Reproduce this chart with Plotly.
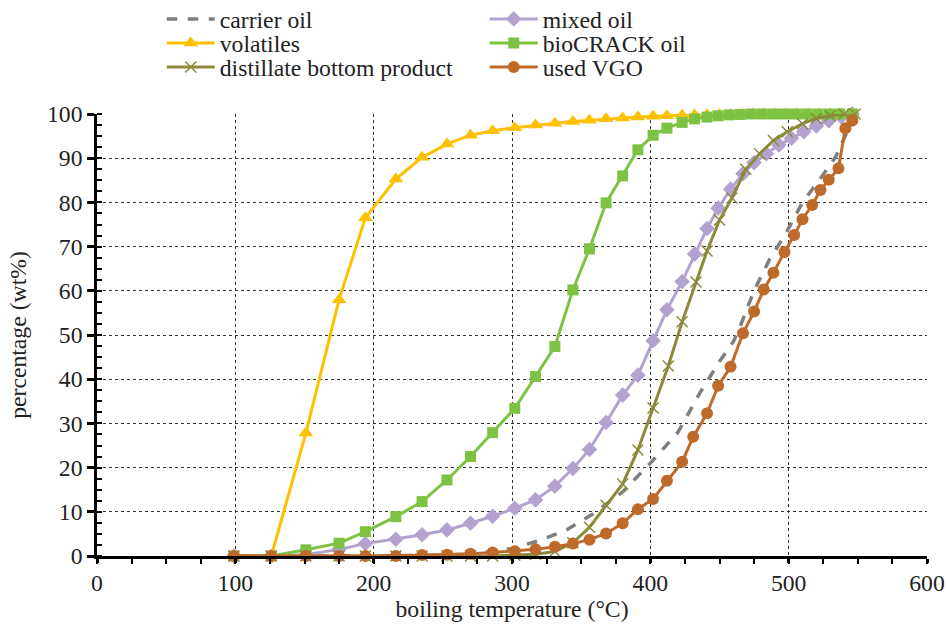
import plotly.graph_objects as go

# ---------------- data ----------------
carrier_T = [99, 126, 151, 175, 194, 216, 235, 253, 270, 285, 300, 320, 340, 360, 380, 400, 420, 436, 450, 460, 465, 475, 486, 498, 510, 522, 534, 546]
carrier_Y = [0, 0, 0, 0, 0, 0, 0.1, 0.2, 0.5, 1.0, 1.7, 3.5, 6.0, 9.8, 14.5, 21.0, 28.0, 37.0, 44.0, 48.5, 52.0, 60.0, 67.0, 73.0, 80.0, 85.0, 90.3, 98.6]

mixed_T = [99, 126, 151, 175, 194, 216, 235, 253, 270, 286, 302, 317, 331, 344, 356, 368, 380, 391, 402, 412, 423, 432, 441, 449, 458, 467, 475, 484, 493, 502, 511, 520, 529, 538, 546]
mixed_Y = [0, 0, 0.3, 1.5, 2.8, 3.8, 4.8, 5.9, 7.4, 9.0, 10.8, 12.7, 15.8, 19.8, 24.1, 30.2, 36.4, 40.9, 48.7, 55.7, 62.1, 68.3, 74.1, 78.7, 83.0, 86.5, 89.0, 91.0, 93.0, 94.5, 96.0, 97.3, 98.5, 99.4, 100]

vol_T = [99, 126, 151, 175, 194, 216, 235, 253, 270, 286, 302, 317, 331, 344, 356, 368, 380, 391, 402, 412, 423, 432, 441, 450, 458, 466, 474, 482, 490, 498, 506, 514, 522, 530, 538, 546]
vol_Y = [0, 0, 27.8, 58.0, 76.5, 85.3, 90.2, 93.2, 95.2, 96.2, 96.9, 97.5, 97.9, 98.3, 98.6, 98.9, 99.1, 99.3, 99.5, 99.6, 99.7, 99.8, 99.85, 99.9, 99.9, 99.95, 100, 100, 100, 100, 100, 100, 100, 100, 100, 100]

bio_T = [99, 126, 151, 175, 194, 216, 235, 253, 270, 286, 302, 317, 331, 344, 356, 368, 380, 391, 402, 412, 423, 432, 441, 449, 457, 465, 473, 481, 489, 497, 505, 513, 521, 529, 537, 546]
bio_Y = [0, 0, 1.4, 2.9, 5.5, 8.9, 12.3, 17.2, 22.5, 27.9, 33.4, 40.6, 47.4, 60.2, 69.5, 79.9, 86.0, 91.9, 95.2, 96.8, 98.1, 98.9, 99.3, 99.6, 99.8, 99.9, 100, 100, 100, 100, 100, 100, 100, 100, 100, 100]

dist_T = [99, 126, 151, 175, 194, 216, 235, 253, 270, 286, 302, 317, 331, 344, 356, 368, 380, 391, 402, 413, 423, 433, 441, 450, 459, 469, 479, 489, 499, 510, 520, 530, 540, 548]
dist_Y = [0, 0, 0, 0, 0, 0, 0, 0, 0, 0, 0.2, 0.4, 1.0, 3.0, 6.5, 11.5, 16.3, 24.0, 33.5, 43.0, 53.0, 62.0, 69.0, 76.0, 81.0, 87.5, 91.0, 94.0, 96.0, 97.8, 99.0, 99.6, 100, 100]

vgo_T = [99, 126, 151, 175, 194, 216, 235, 253, 270, 286, 302, 317, 331, 344, 356, 368, 380, 391, 402, 412, 423, 431, 441, 449, 458, 467, 475, 482, 489, 497, 504, 510, 517, 523, 529, 536, 541, 546]
vgo_Y = [0, 0, 0, 0, 0, 0, 0.2, 0.3, 0.5, 0.8, 1.1, 1.5, 2.1, 2.8, 3.7, 5.1, 7.4, 10.6, 12.9, 17.0, 21.3, 27.0, 32.3, 38.5, 42.8, 50.4, 55.3, 60.3, 64.1, 68.8, 72.6, 76.2, 79.4, 82.8, 85.1, 87.7, 96.8, 98.5]

x_ticks = [0, 100, 200, 300, 400, 500, 600]
y_ticks = [0, 10, 20, 30, 40, 50, 60, 70, 80, 90, 100]

FONT = "Liberation Serif, Times New Roman, serif"
TXT = "#222222"
FS = 23.7

fig = go.Figure()

fig.add_trace(go.Scatter(x=carrier_T, y=carrier_Y, name="carrier oil", mode="lines", legend="legend",
                         line=dict(color="#7f7f7f", width=3.5, dash="dash"), cliponaxis=False))
fig.add_trace(go.Scatter(x=mixed_T, y=mixed_Y, name="mixed oil", mode="lines+markers", legend="legend",
                         line=dict(color="#b3a2cf", width=3),
                         marker=dict(symbol="diamond", size=12, color="#b3a2cf"), cliponaxis=False))
fig.add_trace(go.Scatter(x=vol_T, y=vol_Y, name="volatiles", mode="lines+markers", legend="legend2",
                         line=dict(color="#ffc000", width=3),
                         marker=dict(symbol="triangle-up", size=13, color="#ffc000"), cliponaxis=False))
fig.add_trace(go.Scatter(x=bio_T, y=bio_Y, name="bioCRACK oil", mode="lines+markers", legend="legend2",
                         line=dict(color="#7dc242", width=3),
                         marker=dict(symbol="square", size=11, color="#7dc242"), cliponaxis=False))
fig.add_trace(go.Scatter(x=dist_T, y=dist_Y, name="distillate bottom product", mode="lines+markers", legend="legend3",
                         line=dict(color="#8c8a3a", width=3),
                         marker=dict(symbol="x-thin", size=11, color="#8c8a3a",
                                     line=dict(color="#8c8a3a", width=1.5)), cliponaxis=False))
fig.add_trace(go.Scatter(x=vgo_T, y=vgo_Y, name="used VGO", mode="lines+markers", legend="legend3",
                         line=dict(color="#bd6a2b", width=3),
                         marker=dict(symbol="circle", size=12, color="#bd6a2b"), cliponaxis=False))

axis_common = dict(
    showline=True, linecolor="black", linewidth=2.5,
    showgrid=True, gridcolor="#333333", gridwidth=1, griddash="dot",
    zeroline=False, ticks="outside", tickwidth=2.5, tickcolor="black",
    tickfont=dict(family=FONT, size=FS, color=TXT),
    title_font=dict(family=FONT, size=FS, color=TXT),
)

fig.update_xaxes(range=[0, 600], tickvals=x_ticks, ticktext=[str(v) for v in x_ticks], ticklen=4,
                 title_text="boiling temperature (°C)", title_standoff=4,
                 minor=dict(dtick=25, ticks="outside", ticklen=5, tickwidth=2, tickcolor="black", showgrid=False),
                 **axis_common)
fig.update_yaxes(range=[0, 100], tickvals=y_ticks, ticktext=[str(v) for v in y_ticks], ticklen=7,
                 title_text="percentage (wt%)", title_standoff=14,
                 minor=dict(dtick=2.5, ticks="inside", ticklen=5, tickwidth=2, tickcolor="black", showgrid=False),
                 **axis_common)

leg_common = dict(orientation="h", x=0.078, xanchor="left", yanchor="middle",
                  entrywidth=260, entrywidthmode="pixels",
                  font=dict(family=FONT, size=FS, color=TXT),
                  bgcolor="rgba(0,0,0,0)", itemwidth=48)

fig.update_layout(
    width=947, height=628,
    margin=dict(l=97, r=20, t=114, b=72, autoexpand=False),
    plot_bgcolor="white", paper_bgcolor="white",
    font=dict(family=FONT, size=FS, color=TXT),
    legend=dict(y=1.2149, **leg_common),
    legend2=dict(y=1.1606, **leg_common),
    legend3=dict(y=1.1063, **leg_common),
    showlegend=True,
)

fig.write_html("out.html")
